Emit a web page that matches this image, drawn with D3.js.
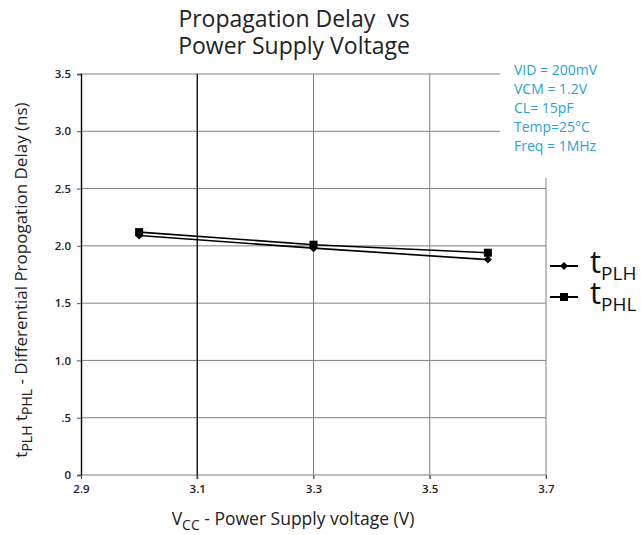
<!DOCTYPE html>
<html>
<head>
<meta charset="utf-8">
<script src="https://cdn.jsdelivr.net/npm/d3@7"></script>
<style>
  body { margin: 0; background: #fff; }
  text { font-family: "Open Sans", sans-serif; }
</style>
</head>
<body>
<div id="chart"></div>
<script>
// data
const vcc = [3.0, 3.3, 3.6]
const tplh = [2.09, 1.98, 1.88]
const tphl = [2.12, 2.01, 1.94]
const xTicks = [2.9, 3.1, 3.3, 3.5, 3.7]
const yTicks = [0, 0.5, 1.0, 1.5, 2.0, 2.5, 3.0, 3.5]
const yTickLabels = ["0", ".5", "1.0", "1.5", "2.0", "2.5", "3.0", "3.5"]
const notes = ["VID = 200mV", "VCM = 1.2V", "CL= 15pF", "Temp=25\u00b0C", "Freq = 1MHz"]

const W = 641, H = 535
const svg = d3.select("#chart").append("svg")
  .attr("width", W).attr("height", H)

const x = d3.scaleLinear().domain([2.9, 3.7]).range([81, 546])
const y = d3.scaleLinear().domain([0, 3.5]).range([475, 74])

// horizontal grid
svg.append("g")
  .selectAll("line")
  .data(yTicks)
  .join("line")
    .attr("x1", x(2.9)).attr("x2", x(3.7))
    .attr("y1", d => y(d)).attr("y2", d => y(d))
    .attr("stroke", "#808080").attr("stroke-width", 1)

// vertical grid (3.1 is drawn darker in the original)
svg.append("g")
  .selectAll("line")
  .data(xTicks.slice(1))
  .join("line")
    .attr("x1", d => x(d)).attr("x2", d => x(d))
    .attr("y1", y(3.5)).attr("y2", y(0) + 4)
    .attr("stroke", d => d == 3.1 ? "#111" : "#808080")
    .attr("stroke-width", d => d == 3.1 ? 1.4 : 1)

// y axis
svg.append("g")
  .attr("transform", `translate(${x(2.9)},0)`)
  .call(d3.axisLeft(y).tickValues(yTicks).tickSize(4)
    .tickFormat((d, i) => yTickLabels[i]))
  .call(g => g.select(".domain").attr("stroke", "#000").attr("stroke-width", 1.4))
  .call(g => g.selectAll(".tick line").attr("stroke", "#555"))
  .call(g => g.selectAll(".tick text")
    .attr("x", -10)
    .style("font-family", "Open Sans, sans-serif")
    .style("font-size", "11.5px").style("font-weight", "600").attr("fill", "#222"))

// x axis ticks + labels
svg.append("g")
  .attr("transform", `translate(0,${y(0)})`)
  .call(d3.axisBottom(x).tickValues(xTicks).tickSize(4).tickFormat(d3.format(".1f")))
  .call(g => g.select(".domain").remove())
  .call(g => g.selectAll(".tick line").attr("stroke", "#555"))
  .call(g => g.selectAll(".tick text")
    .attr("y", 10)
    .style("font-family", "Open Sans, sans-serif")
    .style("font-size", "11.5px").style("font-weight", "600").attr("fill", "#222"))

// series
const series = [
  {name: "PLH", vals: tplh, marker: "diamond"},
  {name: "PHL", vals: tphl, marker: "square"}
]
const line = d3.line().x(d => x(d[0])).y(d => y(d[1]))

function marker(g, type, cx, cy) {
  if (type == "square") {
    g.append("rect").attr("x", cx - 4).attr("y", cy - 4)
      .attr("width", 8).attr("height", 8).attr("fill", "#000")
  } else {
    g.append("path")
      .attr("d", `M${cx},${cy - 4}L${cx + 4},${cy}L${cx},${cy + 4}L${cx - 4},${cy}Z`)
      .attr("fill", "#000")
  }
}

series.forEach(s => {
  const pts = vcc.map((v, i) => [v, s.vals[i]])
  svg.append("path")
    .attr("d", line(pts))
    .attr("fill", "none").attr("stroke", "#000").attr("stroke-width", 1.6)
  const g = svg.append("g")
  pts.forEach(p => marker(g, s.marker, x(p[0]), y(p[1])))
})

// white box where the notes sit (covers the top-right of the frame)
svg.append("rect")
  .attr("x", 500).attr("y", 55).attr("width", 141).attr("height", 123)
  .attr("fill", "#fff")

// notes
svg.append("g")
  .selectAll("text")
  .data(notes)
  .join("text")
    .attr("x", 514)
    .attr("y", (d, i) => 75 + i * 19)
    .attr("fill", "#2a9fd8")
    .style("font-size", "14px")
    .text(d => d)

// legend
const leg = svg.append("g")
series.forEach((s, i) => {
  const ly = 266 + i * 31
  leg.append("line")
    .attr("x1", 550).attr("x2", 578).attr("y1", ly).attr("y2", ly)
    .attr("stroke", "#000").attr("stroke-width", 2)
  marker(leg, s.marker, 564, ly)
  const t = leg.append("text")
    .attr("x", 590).attr("y", ly + 7)
    .attr("fill", "#111")
    .style("font-size", "31px")
  t.append("tspan").text("t")
  t.append("tspan").attr("dy", 7).style("font-size", "19px").text(s.name)
})

// title
svg.append("text")
  .attr("x", 294).attr("text-anchor", "middle")
  .attr("fill", "#222")
  .style("font-size", "23px")
  .selectAll("tspan")
  .data(["Propagation Delay  vs", "Power Supply Voltage"])
  .join("tspan")
    .attr("x", 294)
    .attr("y", (d, i) => 27 + i * 27)
    .attr("xml:space", "preserve")
    .text(d => d)

// x label
const xl = svg.append("text")
  .attr("x", 293).attr("y", 525).attr("text-anchor", "middle")
  .attr("fill", "#222").style("font-size", "17.5px")
xl.append("tspan").text("V")
xl.append("tspan").attr("dy", 5).style("font-size", "14px").text("CC")
xl.append("tspan").attr("dy", -5).text(" - Power Supply voltage (V)")

// y label
const yl = svg.append("text")
  .attr("transform", "translate(27,280) rotate(-90)")
  .attr("text-anchor", "middle")
  .attr("fill", "#222").style("font-size", "17px")
yl.append("tspan").text("t")
yl.append("tspan").attr("dy", 5).style("font-size", "14px").text("PLH")
yl.append("tspan").attr("dy", -5).text(" t")
yl.append("tspan").attr("dy", 5).style("font-size", "14px").text("PHL")
yl.append("tspan").attr("dy", -5).text(" - Differential Propogation Delay (ns)")
</script>
</body>
</html>
